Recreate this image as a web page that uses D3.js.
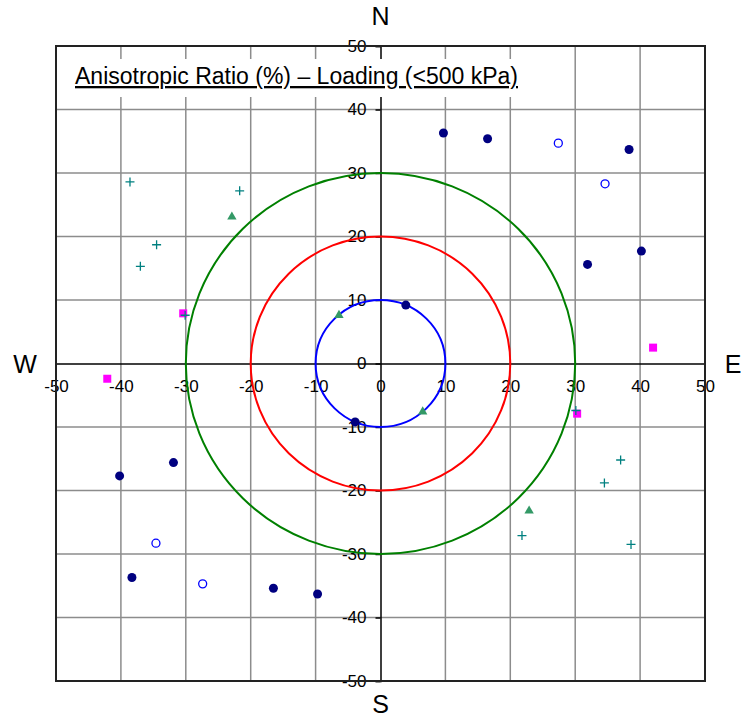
<!DOCTYPE html>
<html>
<head>
<meta charset="utf-8">
<script src="https://cdn.jsdelivr.net/npm/d3@7"></script>
<style>
body { margin: 0; background: #fff; }
text { font-family: "Liberation Sans", Arial, sans-serif; }
</style>
</head>
<body>
<script>
// tick values for both axes
let ticks = [-50, -40, -30, -20, -10, 0, 10, 20, 30, 40, 50];
// reference rings (radius in %)
let ringRadii = [10, 20, 30];
let ringColors = ["#0000ff", "#ff0000", "#008000"];
// series, [x, y]
let navyDots = [[9.7, 36.3], [16.5, 35.4], [38.3, 33.7], [31.9, 15.6], [40.2, 17.7], [3.9, 9.2],
    [-9.7, -36.3], [-16.5, -35.4], [-38.3, -33.7], [-31.9, -15.6], [-40.2, -17.7], [-3.9, -9.2]];
let openDots = [[27.4, 34.7], [34.6, 28.3], [-34.6, -28.3], [-27.4, -34.7]];
let squares = [[-30.4, 7.9], [42.0, 2.5], [-42.1, -2.4], [30.3, -7.9]];
let triangles = [[-22.9, 23.1], [-6.4, 7.6], [6.5, -7.6], [22.9, -23.2]];
let crosses = [[-38.6, 28.6], [-21.7, 27.2], [-34.5, 18.7], [-37.0, 15.3], [-30.1, 7.6],
    [37.0, -15.2], [34.5, -18.8], [21.8, -27.1], [38.6, -28.5], [30.1, -7.4]];
let title = "Anisotropic Ratio (%) \u2013 Loading (<500 kPa)";

let width = 741, height = 719;
let plotLeft = 56, plotRight = 705, plotTop = 46, plotBottom = 681;

let svg = d3.select("body").append("svg")
    .attr("width", width)
    .attr("height", height);

let xScale = d3.scaleLinear().domain([-50, 50]).range([plotLeft, plotRight]);
let yScale = d3.scaleLinear().domain([-50, 50]).range([plotBottom, plotTop]);

//gridlines
let inner = ticks.filter(d => Math.abs(d) !== 50 && d !== 0);
let grid = svg.append("g");
grid.selectAll(".vg").data(inner).enter()
    .append("line")
    .attr("x1", d => xScale(d)).attr("x2", d => xScale(d))
    .attr("y1", plotTop).attr("y2", plotBottom)
    .style("stroke", "#8c8c8c").style("stroke-width", 1.5);
grid.selectAll(".hg").data(inner).enter()
    .append("line")
    .attr("y1", d => yScale(d)).attr("y2", d => yScale(d))
    .attr("x1", plotLeft).attr("x2", plotRight)
    .style("stroke", "#8c8c8c").style("stroke-width", 1.5);

//axes through the centre, plain hyphen for negatives
let fmt = d => String(d);
let xAxis = d3.axisBottom(xScale).tickValues(ticks).tickSize(0).tickPadding(16).tickFormat(fmt);
let yAxis = d3.axisLeft(yScale).tickValues(ticks).tickSize(5).tickPadding(9).tickFormat(fmt);
let gx = svg.append("g")
    .attr("transform", "translate(0," + yScale(0) + ")")
    .call(xAxis);
let gy = svg.append("g")
    .attr("transform", "translate(" + xScale(0) + ",0)")
    .call(yAxis);
[gx, gy].forEach(g => {
    g.select(".domain").style("stroke", "#000").style("stroke-width", 1.5);
    g.selectAll(".tick line").style("stroke", "#000").style("stroke-width", 1.5);
    g.selectAll("text")
        .style("fill", "#000")
        .style("font-size", "17px")
        .style("font-family", "'Liberation Sans', Arial, sans-serif");
});

//plot border
svg.append("rect")
    .attr("x", plotLeft).attr("y", plotTop)
    .attr("width", plotRight - plotLeft).attr("height", plotBottom - plotTop)
    .style("fill", "none").style("stroke", "#222").style("stroke-width", 2);

//title with a white box behind it
let titleG = svg.append("g");
let titleBox = titleG.append("rect")
    .attr("y", 59).attr("height", 38)
    .style("fill", "#fff");
let titleText = titleG.append("text")
    .attr("x", 75).attr("y", 84)
    .style("font-size", "23px")
    .style("text-decoration", "underline")
    .text(title);
let tw = titleText.node().getComputedTextLength();
titleBox.attr("x", 68).attr("width", tw + 12);

//reference rings, drawn as ellipses since the scales differ a little
svg.selectAll(".ring").data(ringRadii).enter()
    .append("ellipse")
    .attr("cx", xScale(0)).attr("cy", yScale(0))
    .attr("rx", d => xScale(d) - xScale(0))
    .attr("ry", d => yScale(0) - yScale(d))
    .style("fill", "none")
    .style("stroke", (d, i) => ringColors[i])
    .style("stroke-width", 2);

//markers
svg.selectAll(".open").data(openDots).enter()
    .append("circle")
    .attr("cx", d => xScale(d[0])).attr("cy", d => yScale(d[1]))
    .attr("r", 4)
    .style("fill", "#fff").style("stroke", "#0000ff").style("stroke-width", 1.3);

svg.selectAll(".sq").data(squares).enter()
    .append("rect")
    .attr("x", d => xScale(d[0]) - 4).attr("y", d => yScale(d[1]) - 4)
    .attr("width", 8).attr("height", 8)
    .style("fill", "#ff00ff");

let tri = d3.symbol().type(d3.symbolTriangle).size(38);
svg.selectAll(".tri").data(triangles).enter()
    .append("path")
    .attr("d", tri)
    .attr("transform", d => "translate(" + xScale(d[0]) + "," + yScale(d[1]) + ")")
    .style("fill", "#339966");

svg.selectAll(".cross").data(crosses).enter()
    .append("path")
    .attr("d", "M-4.5,0H4.5M0,-4.5V4.5")
    .attr("transform", d => "translate(" + xScale(d[0]) + "," + yScale(d[1]) + ")")
    .style("fill", "none").style("stroke", "#008080").style("stroke-width", 1.3);

svg.selectAll(".navy").data(navyDots).enter()
    .append("circle")
    .attr("cx", d => xScale(d[0])).attr("cy", d => yScale(d[1]))
    .attr("r", 4.5)
    .style("fill", "#000080");

//compass letters
let compass = [["N", xScale(0), 25], ["S", xScale(0), 713], ["W", 25, yScale(0) + 9], ["E", 733, yScale(0) + 9]];
svg.selectAll(".compass").data(compass).enter()
    .append("text")
    .attr("x", d => d[1]).attr("y", d => d[2])
    .attr("text-anchor", "middle")
    .style("font-size", "25px")
    .text(d => d[0]);
</script>
</body>
</html>
